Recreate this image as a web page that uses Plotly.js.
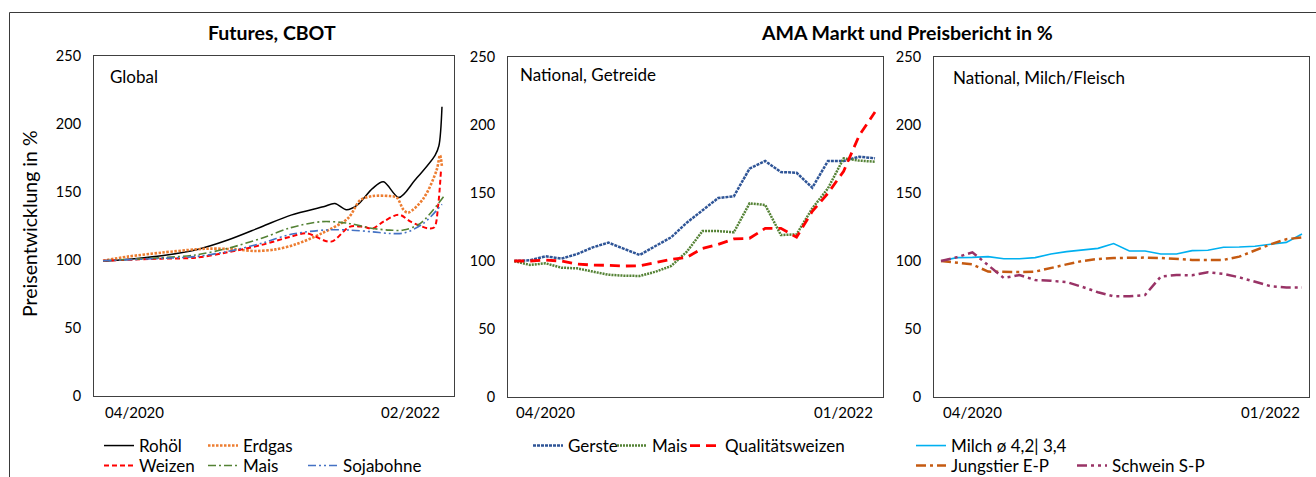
<!DOCTYPE html>
<html><head><meta charset="utf-8">
<script src="https://cdn.plot.ly/plotly-3.0.1.min.js"></script>
<style>html,body{margin:0;padding:0;background:#fff;overflow:hidden;} #chart{width:1316px;height:477px;}</style>
</head><body><div id="chart"></div>
<script>
// ---------- Left panel: Futures, CBOT (x = months since 04/2020) ----------
const leftTickLabels = ['04/2020', '02/2022'];
const rohoelX = [0, 3.8, 6, 8.1, 10.3, 12.2, 14.3, 15.05, 15.8, 16.5, 17.5, 18.2, 19.2, 20.25, 21.55, 21.8, 22];
const rohoelY = [99, 103.2, 107.4, 114.7, 124.5, 133, 139.2, 141.5, 137, 140.4, 152.7, 157.5, 146, 158.8, 177, 184, 212.7];
const erdgasX = [0, 1.6, 3.8, 6, 7, 8.6, 9.9, 11.2, 12.5, 14.2, 15.9, 16.7, 17.5, 18.6, 19.06, 19.5, 19.8, 20.8, 21.65, 21.87, 22];
const erdgasY = [99.5, 102.5, 105.4, 107.8, 108.4, 107.8, 106.6, 107.8, 111.5, 119.6, 130.7, 144, 147, 147, 146, 137, 134.8, 145.3, 166, 177, 168.6];
const weizenX = [0, 3.8, 6, 8.1, 10.3, 12.2, 13.2, 14.8, 16, 16.9, 17.5, 18.2, 19.2, 20, 21.1, 21.5, 21.75, 21.93];
const weizenY = [99.5, 101, 101.7, 105.7, 111.1, 117.2, 119.6, 113.5, 124.4, 124.4, 123.2, 128.2, 133.3, 128, 123.3, 124, 140, 165];
const maisGX = [0, 3.8, 6, 8.1, 10.3, 12.2, 14.2, 15.9, 17.5, 18.6, 19.5, 20.6, 22.1];
const maisGY = [99.5, 101.7, 103.7, 108.6, 116, 123.8, 128.2, 127, 123.2, 122, 122, 127, 146.5];
const sojaX = [0, 3.8, 6, 8.1, 10.3, 12.2, 14.5, 16, 17.5, 18.6, 19.6, 20.8, 22];
const sojaY = [99.5, 101.2, 102.5, 106.3, 112.3, 118.9, 122.1, 122, 120.7, 119.5, 120, 127, 141];

// ---------- Middle & right panels: AMA Markt und Preisbericht (x = report index) ----------
const amaTickLabels = ['04/2020', '01/2022'];
const amaIdx = [0, 1, 2, 3, 4, 5, 6, 7, 8, 9, 10, 11, 12, 13, 14, 15, 16, 17, 18, 19, 20, 21, 22, 23];
const gersteY = [100, 100.5, 103.5, 101.7, 105.1, 110, 113.5, 108.8, 104.4, 111, 117.4, 128.2, 137, 146.3, 147.6, 167.9, 173.5, 165.4, 164.9, 153.9, 173.5, 173.5, 176.7, 175.5];
const maisNY = [100, 97.1, 98.3, 95.1, 94.6, 92.1, 89.9, 89.2, 89, 92.1, 96.3, 106.8, 122, 122, 121.1, 142.4, 141.2, 119.1, 119.6, 138.7, 153.4, 175.5, 173.8, 173];
const qweizenY = [100, 100, 100.6, 100, 97.8, 97, 96.8, 96.3, 96.5, 99, 101.2, 102.7, 109.3, 112.2, 116.2, 116.7, 124, 124, 117.5, 136.5, 149.8, 166, 192.5, 209.5];
const milchY = [100, 102.5, 102.7, 103.2, 101.7, 101.7, 102.5, 105.1, 106.9, 107.9, 109.3, 112.8, 107.4, 107.4, 105.1, 105.1, 107.6, 107.9, 110.1, 110.3, 110.8, 112.3, 113.7, 119.9];
const jungstierY = [100, 98.8, 97.5, 92.2, 91.9, 91.9, 92.2, 94.6, 97.5, 100, 101.5, 102.2, 102.5, 102.5, 102.2, 101.5, 100.8, 100.8, 100.8, 103.2, 107.9, 112.3, 116, 117.4];
const schweinY = [100, 102.7, 106.4, 97, 87.5, 89.7, 86, 85.5, 84.5, 81, 77, 74, 74, 75, 88.5, 89.7, 89.5, 91.7, 90.5, 88, 84.5, 81.5, 80.6, 80.6];

const FONT = 'Lato, "Open Sans", sans-serif';
const W = 1316, H = 477;
const px = v => v / W;           // horizontal pixel -> fraction
const py = v => 1 - v / H;       // vertical pixel -> fraction

function tr(x, y, name, xa, ya, legend, line, shape) {
  return {x, y, name, xaxis: xa, yaxis: ya, legend, type: 'scatter', mode: 'lines',
          line: Object.assign({shape: shape || 'linear', smoothing: 0.9}, line), hoverinfo: 'skip'};
}

const traces = [
  tr(rohoelX, rohoelY, 'Rohöl', 'x', 'y', 'legend', {color: '#000000', width: 1.5}, 'spline'),
  tr(erdgasX, erdgasY, 'Erdgas', 'x', 'y', 'legend2', {color: '#ED7D31', width: 2.6, dash: '2.5px,1.5px'}, 'spline'),
  tr(weizenX, weizenY, 'Weizen', 'x', 'y', 'legend3', {color: '#FF0000', width: 2, dash: '5px,3px'}, 'spline'),
  tr(maisGX, maisGY, 'Mais', 'x', 'y', 'legend4', {color: '#548235', width: 1.6, dash: '8px,3px,2px,3px'}, 'spline'),
  tr(sojaX, sojaY, 'Sojabohne', 'x', 'y', 'legend5', {color: '#4472C4', width: 1.6, dash: '8px,3px,2px,3px,2px,3px'}, 'spline'),
  tr(amaIdx, gersteY, 'Gerste', 'x2', 'y2', 'legend6', {color: '#2F5597', width: 2.5, dash: '3px,1px'}),
  tr(amaIdx, maisNY, 'Mais', 'x2', 'y2', 'legend7', {color: '#548235', width: 2.5, dash: '2px,1px'}),
  tr(amaIdx, qweizenY, 'Qualitätsweizen', 'x2', 'y2', 'legend8', {color: '#FF0000', width: 2.8, dash: '10px,6px'}),
  tr(amaIdx, milchY, 'Milch ø 4,2| 3,4', 'x3', 'y3', 'legend9', {color: '#00B0F0', width: 1.6}),
  tr(amaIdx, jungstierY, 'Jungstier E-P', 'x3', 'y3', 'legend10', {color: '#C55A11', width: 2.5, dash: '10px,4px,3px,4px'}),
  tr(amaIdx, schweinY, 'Schwein S-P', 'x3', 'y3', 'legend11', {color: '#993366', width: 2.5, dash: '10px,4px,3px,4px,3px,4px'})
];

const lineCol = '#404040';
function yax(domTop, domBot) {
  return {domain: [py(domBot), py(domTop)], range: [0, 250], dtick: 50, tick0: 0,
          showgrid: false, zeroline: false, showline: true, mirror: true, linecolor: lineCol, linewidth: 1,
          ticks: '', ticklabelstandoff: 9, tickfont: {family: FONT, size: 14.5, color: '#000'}, fixedrange: true};
}
function xax(l, r, range) {
  return {domain: [px(l), px(r)], range, showgrid: false, zeroline: false, showline: true, mirror: true,
          linecolor: lineCol, linewidth: 1, showticklabels: false, ticks: '', fixedrange: true};
}

function legendAt(xpx, ypx) {
  return {orientation: 'h', x: px(xpx - 5), y: py(ypx), xref: 'container', yref: 'container', xanchor: 'left', yanchor: 'middle',
          bgcolor: 'rgba(0,0,0,0)', borderwidth: 0, font: {family: FONT, size: 17, color: '#000'},
          itemwidth: 30, traceorder: 'normal', itemclick: false, itemdoubleclick: false};
}

const annos = [];
function lab(text, xpx, ypx, opts) {
  annos.push(Object.assign({text, x: px(xpx), y: py(ypx), xref: 'paper', yref: 'paper', showarrow: false,
    xanchor: 'left', yanchor: 'middle', font: {family: FONT, size: 17, color: '#000'}}, opts || {}));
}
lab('<b>Futures, CBOT</b>', 272, 33, {xanchor: 'center', font: {family: FONT, size: 19.5, color: '#000'}});
lab('<b>AMA Markt und Preisbericht in %</b>', 907, 33, {xanchor: 'center', font: {family: FONT, size: 19.5, color: '#000'}});
lab('Preisentwicklung in %', 30, 224, {xanchor: 'center', textangle: -90, font: {family: FONT, size: 19.5, color: '#000'}});
lab('Global', 108, 76);
lab('National, Getreide', 518, 74);
lab('National, Milch/Fleisch', 951, 77);
// x tick labels at first and last data points
function xticks(xs, labels, xref, ypx) {
  annos.push({text: labels[0], x: xs[0], xref, y: py(ypx), yref: 'paper', showarrow: false, xanchor: 'left', yanchor: 'middle',
              font: {family: FONT, size: 15, color: '#000'}});
  annos.push({text: labels[1], x: xs[xs.length - 1], xref, y: py(ypx), yref: 'paper', showarrow: false, xanchor: 'right', yanchor: 'middle',
              font: {family: FONT, size: 15, color: '#000'}});
}
xticks(rohoelX, leftTickLabels, 'x', 412);
xticks(amaIdx, amaTickLabels, 'x2', 412);
xticks(amaIdx, amaTickLabels, 'x3', 412);

const layout = {
  width: W, height: H, margin: {l: 0, r: 0, t: 0, b: 0, autoexpand: false}, paper_bgcolor: '#fff', plot_bgcolor: '#fff',
  showlegend: true, hovermode: false,
  xaxis: xax(94, 454, [-0.584, 22.78]), yaxis: yax(56, 396),
  xaxis2: xax(508, 883, [-0.40, 23.51]), yaxis2: Object.assign(yax(57, 397), {anchor: 'x2'}),
  xaxis3: xax(934, 1309, [-0.446, 23.446]), yaxis3: Object.assign(yax(57, 397), {anchor: 'x3'}),
  legend: legendAt(104, 446), legend2: legendAt(208, 446),
  legend3: legendAt(104, 466), legend4: legendAt(208, 466), legend5: legendAt(308, 466),
  legend6: legendAt(533, 446), legend7: legendAt(617, 446), legend8: legendAt(690, 446),
  legend9: legendAt(916, 446),
  legend10: legendAt(916, 466), legend11: legendAt(1077, 466),
  annotations: annos,
  shapes: [{type: 'rect', xref: 'paper', yref: 'paper', x0: px(9.5), x1: 1.01, y0: -0.02, y1: py(12.5),
            line: {color: '#3a3a3a', width: 1}, fillcolor: 'rgba(0,0,0,0)', layer: 'below'}]
};
layout.xaxis.anchor = 'y'; layout.yaxis.anchor = 'x';
layout.xaxis2.anchor = 'y2'; layout.xaxis3.anchor = 'y3';

Plotly.newPlot('chart', traces, layout, {displayModeBar: false, staticPlot: true});
</script></body></html>
